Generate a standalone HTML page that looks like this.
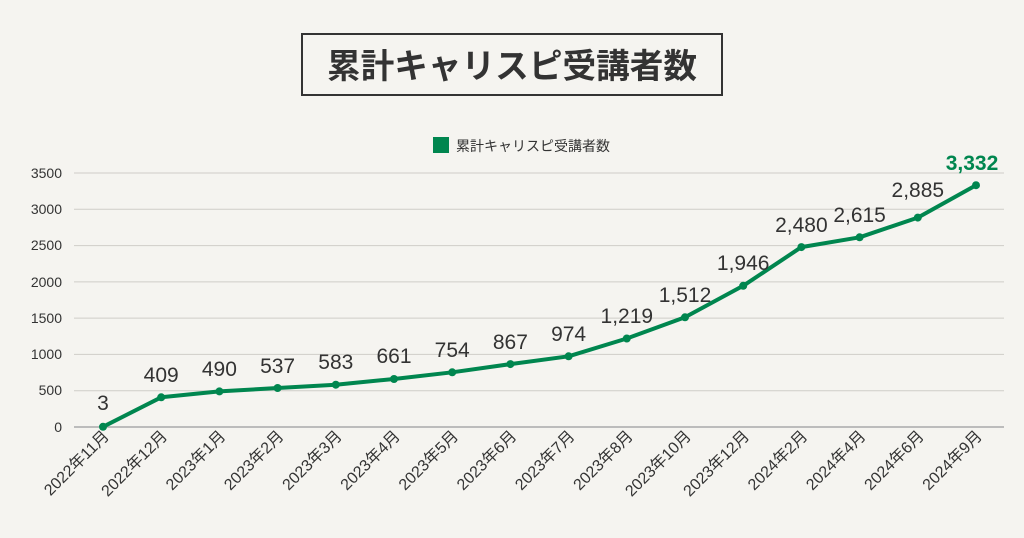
<!DOCTYPE html>
<html><head><meta charset="utf-8"><style>
html,body{margin:0;padding:0;background:#f5f4f0;}
svg{display:block;font-family:"Liberation Sans","Noto Sans CJK JP",sans-serif;}
</style></head><body>
<svg width="1024" height="538" viewBox="0 0 1024 538">
<rect width="1024" height="538" fill="#f5f4f0"/>
<rect x="302" y="34" width="420" height="61" fill="none" stroke="#333" stroke-width="2"/>
<text x="512" y="78" text-anchor="middle" font-size="34" font-weight="bold" fill="#333" font-family="'Noto Sans CJK JP',sans-serif" textLength="370" lengthAdjust="spacingAndGlyphs">累計キャリスピ受講者数</text>
<rect x="433" y="137" width="16" height="16" fill="#00864f"/>
<text x="456" y="151" font-size="14" fill="#333">累計キャリスピ受講者数</text>
<g stroke="#cfcdc8" stroke-width="1">
<line x1="74" x2="1004" y1="173" y2="173"/><line x1="74" x2="1004" y1="209.3" y2="209.3"/>
<line x1="74" x2="1004" y1="245.6" y2="245.6"/><line x1="74" x2="1004" y1="281.9" y2="281.9"/>
<line x1="74" x2="1004" y1="318.1" y2="318.1"/><line x1="74" x2="1004" y1="354.4" y2="354.4"/>
<line x1="74" x2="1004" y1="390.7" y2="390.7"/>
</g>
<line x1="74" x2="1004" y1="427" y2="427" stroke="#aaa" stroke-width="1.5"/>
<g font-size="14" fill="#333" text-anchor="end">
<text x="62" y="178">3500</text><text x="62" y="214">3000</text><text x="62" y="250">2500</text>
<text x="62" y="287">2000</text><text x="62" y="323">1500</text><text x="62" y="359">1000</text>
<text x="62" y="395">500</text><text x="62" y="432">0</text>
</g>
<polyline fill="none" stroke="#00864f" stroke-width="4" stroke-linejoin="round" points="103,426.8 161.2,397.3 219.4,391.4 277.6,388 335.8,384.7 394,379 452.2,372.3 510.4,364.1 568.6,356.3 626.8,338.5 685,317.3 743.2,285.8 801.4,247.1 859.6,237.3 917.8,217.6 976,185.2"/>
<g fill="#00864f">
<circle cx="103" cy="426.8" r="4"/><circle cx="161.2" cy="397.3" r="4"/><circle cx="219.4" cy="391.4" r="4"/><circle cx="277.6" cy="388" r="4"/><circle cx="335.8" cy="384.7" r="4"/><circle cx="394" cy="379" r="4"/><circle cx="452.2" cy="372.3" r="4"/><circle cx="510.4" cy="364.1" r="4"/><circle cx="568.6" cy="356.3" r="4"/><circle cx="626.8" cy="338.5" r="4"/><circle cx="685" cy="317.3" r="4"/><circle cx="743.2" cy="285.8" r="4"/><circle cx="801.4" cy="247.1" r="4"/><circle cx="859.6" cy="237.3" r="4"/><circle cx="917.8" cy="217.6" r="4"/><circle cx="976" cy="185.2" r="4"/>
</g>
<g font-size="21" fill="#333" text-anchor="middle">
<text x="103" y="410">3</text><text x="161.2" y="382">409</text><text x="219.4" y="376">490</text>
<text x="277.6" y="373">537</text><text x="335.8" y="369">583</text><text x="394" y="363">661</text>
<text x="452.2" y="357">754</text><text x="510.4" y="349">867</text><text x="568.6" y="341">974</text>
<text x="626.8" y="323">1,219</text><text x="685" y="302">1,512</text><text x="743.2" y="270">1,946</text>
<text x="801.4" y="232">2,480</text><text x="859.6" y="222">2,615</text><text x="917.8" y="197">2,885</text>
</g>
<text x="972" y="170" font-size="21" font-weight="bold" fill="#00864f" text-anchor="middle">3,332</text>
<g font-size="16" fill="#333" text-anchor="end">
<text transform="translate(110,437) rotate(-45)">2022年11月</text>
<text transform="translate(168.2,437) rotate(-45)">2022年12月</text>
<text transform="translate(226.4,437) rotate(-45)">2023年1月</text>
<text transform="translate(284.6,437) rotate(-45)">2023年2月</text>
<text transform="translate(342.8,437) rotate(-45)">2023年3月</text>
<text transform="translate(401,437) rotate(-45)">2023年4月</text>
<text transform="translate(459.2,437) rotate(-45)">2023年5月</text>
<text transform="translate(517.4,437) rotate(-45)">2023年6月</text>
<text transform="translate(575.6,437) rotate(-45)">2023年7月</text>
<text transform="translate(633.8,437) rotate(-45)">2023年8月</text>
<text transform="translate(692,437) rotate(-45)">2023年10月</text>
<text transform="translate(750.2,437) rotate(-45)">2023年12月</text>
<text transform="translate(808.4,437) rotate(-45)">2024年2月</text>
<text transform="translate(866.6,437) rotate(-45)">2024年4月</text>
<text transform="translate(924.8,437) rotate(-45)">2024年6月</text>
<text transform="translate(983,437) rotate(-45)">2024年9月</text>
</g>
</svg>
</body></html>
